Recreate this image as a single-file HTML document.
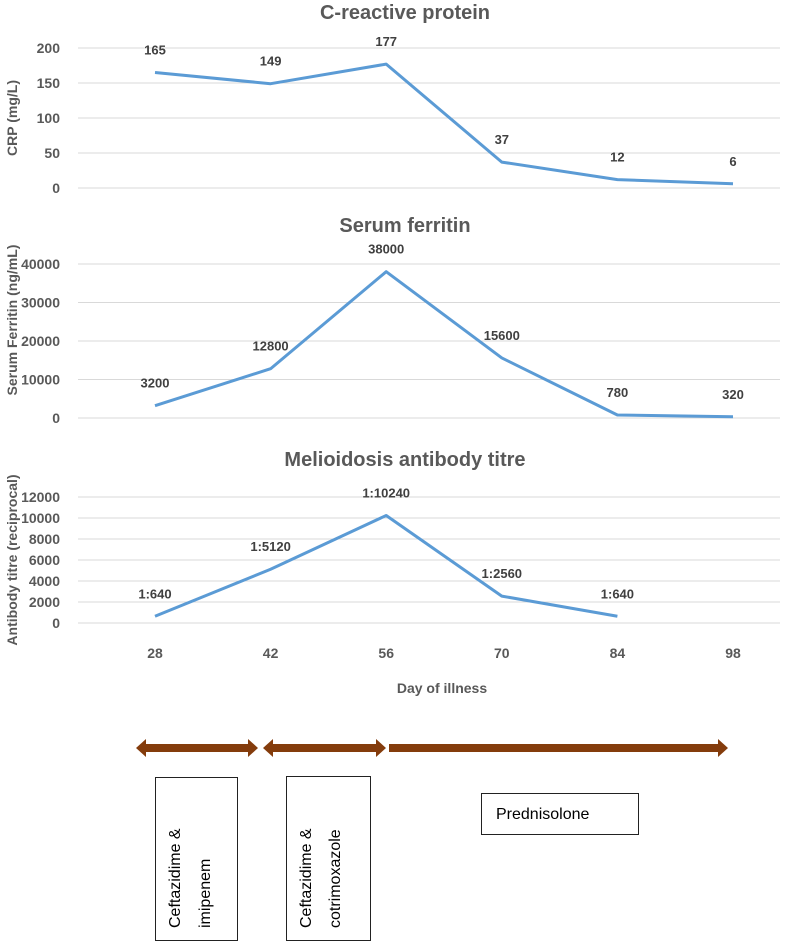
<!DOCTYPE html>
<html><head><meta charset="utf-8">
<style>
html,body{margin:0;padding:0;background:#fff;}
svg{display:block;font-family:"Liberation Sans",sans-serif;}
.t{font-size:20px;font-weight:bold;fill:#595959;}
.tk{font-size:14px;font-weight:bold;fill:#595959;}
.lb{font-size:13px;font-weight:bold;fill:#404040;}
.ax{font-size:14px;font-weight:bold;fill:#595959;}
.g{stroke:#d9d9d9;stroke-width:1;}
.ln{fill:none;stroke:#5b9bd5;stroke-width:3;stroke-linejoin:round;}
.bx{font-size:16px;fill:#000;}
</style></head><body>
<svg id="c" width="787" height="944" viewBox="0 0 787 944">
<text class="t" x="405" y="19" text-anchor="middle">C-reactive protein</text>
<text class="t" x="405" y="232" text-anchor="middle">Serum ferritin</text>
<text class="t" x="405" y="466" text-anchor="middle">Melioidosis antibody titre</text>
<text class="ax" transform="translate(17,118) rotate(-90)" text-anchor="middle">CRP  (mg/L)</text>
<text class="ax" transform="translate(17,320) rotate(-90)" text-anchor="middle">Serum Ferritin (ng/mL)</text>
<text class="ax" transform="translate(17,560) rotate(-90)" text-anchor="middle">Antibody titre (reciprocal)</text>
<text class="ax" x="442" y="693" text-anchor="middle">Day of illness</text>
<g id="plots"></g>
<g>
<polygon fill="#843c0c" points="136,748 146,739 146,744 248,744 248,739 258,748 248,757 248,752 146,752 146,757"/>
<polygon fill="#843c0c" points="263,748 273,739 273,744 376,744 376,739 386,748 376,757 376,752 273,752 273,757"/>
<polygon fill="#843c0c" points="389,744 718,744 718,739 728,748 718,757 718,752 389,752"/>
<rect x="155.5" y="777.5" width="82" height="163" fill="#fff" stroke="#222"/>
<text class="bx" transform="translate(180,928) rotate(-90)">Ceftazidime  &amp;</text>
<text class="bx" transform="translate(210,928) rotate(-90)">imipenem</text>
<rect x="286.5" y="776.5" width="84" height="164" fill="#fff" stroke="#222"/>
<text class="bx" transform="translate(311,928) rotate(-90)">Ceftazidime &amp;</text>
<text class="bx" transform="translate(340,928) rotate(-90)">cotrimoxazole</text>
<rect x="481.5" y="793.5" width="157" height="41" fill="#fff" stroke="#222"/>
<text class="bx" x="496" y="819">Prednisolone</text>
</g>
</svg>
<script>
const days=[28,42,56,70,84,98];
const crpValues=[165,149,177,37,12,6];
const crpLabels=["165","149","177","37","12","6"];
const crpTicks=[0,50,100,150,200];
const ferritinValues=[3200,12800,38000,15600,780,320];
const ferritinLabels=["3200","12800","38000","15600","780","320"];
const ferritinTicks=[0,10000,20000,30000,40000];
const titreValues=[640,5120,10240,2560,640];
const titreLabels=["1:640","1:5120","1:10240","1:2560","1:640"];
const titreTicks=[0,2000,4000,6000,8000,10000,12000];
const NS="http://www.w3.org/2000/svg";
const g=document.getElementById('plots');
function xs(d){return 155+(d-28)/14*115.6;}
function mk(tag,attrs,parent){const e=document.createElementNS(NS,tag);for(const k in attrs)e.setAttribute(k,attrs[k]);parent.appendChild(e);return e;}
function panel(name,vals,labs,ticks,y0,yTop,max,lblOff){
  const ys=v=>y0-(v/max)*(y0-yTop);
  const pg=mk('g',{},g);
  
  
  ticks.forEach(t=>{
    const l=mk('line',{x1:78,x2:780,y1:ys(t),y2:ys(t),class:'g'},pg);
    
    
    const tx=mk('text',{x:60,y:ys(t)+5,'text-anchor':'end',class:'tk'},pg);
    tx.textContent=t;
    
    
  });
  const p=mk('polyline',{class:'ln',points:vals.map((v,i)=>xs(days[i])+','+ys(v)).join(' ')},pg);
  
  
  vals.forEach((v,i)=>{
    const t=mk('text',{x:xs(days[i]),y:ys(v)-lblOff,'text-anchor':'middle',class:'lb'},pg);
    t.textContent=labs[i];
    
    
  });
}
panel('crp',crpValues,crpLabels,crpTicks,188,48,200,18);
panel('ferritin',ferritinValues,ferritinLabels,ferritinTicks,418,264,40000,18);
panel('titre',titreValues,titreLabels,titreTicks,623,497,12000,18);
days.forEach(d=>{
  const t=mk('text',{x:xs(d),y:658,'text-anchor':'middle',class:'tk'},g);
  t.textContent=d;
  
  
});
</script>
</body></html>
